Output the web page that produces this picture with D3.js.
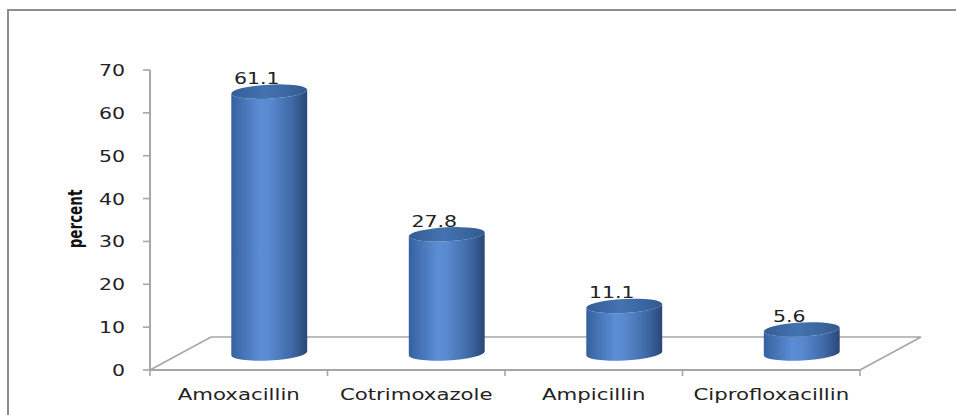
<!DOCTYPE html>
<html><head><meta charset="utf-8">
<script src="https://cdn.jsdelivr.net/npm/d3@7"></script>
<style>body{margin:0;background:#fff}svg{display:block}</style>
</head><body>
<script>
const categories = ["Amoxacillin", "Cotrimoxazole", "Ampicillin", "Ciprofloxacillin"];
const values = [61.1, 27.8, 11.1, 5.6];
const valueLabels = ["61.1", "27.8", "11.1", "5.6"];
const yTicks = [0, 10, 20, 30, 40, 50, 60, 70];
const yTitle = "percent";

const W = 956, H = 415;
const svg = d3.select("body").append("svg").attr("width", W).attr("height", H);
const S = 1.28;   // horizontal stretch of numbers
const SC = 1.33;  // horizontal stretch of category labels
const font = "'DejaVu Sans', Verdana, sans-serif";

const x0 = 150, x1 = 860, yBase = 370, yTop = 70;
const depthX = 61, depthY = 33;
const y = d3.scaleLinear().domain([0, 70]).range([yBase, yTop]);
const x = d3.scaleBand().domain(categories).range([x0, x1]);

const defs = svg.append("defs");
const gb = defs.append("linearGradient").attr("id", "body").attr("x1", 0).attr("x2", 1).attr("y1", 0).attr("y2", 0);
[[0, "#3661a0"], [0.38, "#5b8ed5"], [0.5, "#5989cf"], [0.8, "#3e69a6"], [1, "#2a4775"]].forEach(s => gb.append("stop").attr("offset", s[0]).attr("stop-color", s[1]));
const gt = defs.append("linearGradient").attr("id", "top").attr("x1", 0).attr("x2", 1).attr("y1", 0).attr("y2", 0);
[[0, "#345d96"], [0.45, "#4473b1"], [1, "#335a90"]].forEach(s => gt.append("stop").attr("offset", s[0]).attr("stop-color", s[1]));

// frame
svg.append("rect").attr("x", 8).attr("y", 10).attr("width", 1100).attr("height", 600)
  .attr("fill", "none").attr("stroke", "#8d8d8d").attr("stroke-width", 2);

const grey = "#a6a6a6";
// floor
svg.append("path")
  .attr("d", `M${x0},${yBase} L${x0 + depthX},${yBase - depthY} L${x1 + depthX},${yBase - depthY} L${x1},${yBase}`)
  .attr("fill", "none").attr("stroke", grey).attr("stroke-width", 1.6);

// y axis
svg.append("line").attr("x1", x0).attr("x2", x0).attr("y1", y(70)).attr("y2", yBase)
  .attr("stroke", grey).attr("stroke-width", 2);
yTicks.forEach(t => {
  svg.append("line").attr("x1", x0 - 7).attr("x2", x0).attr("y1", y(t)).attr("y2", y(t))
    .attr("stroke", grey).attr("stroke-width", 1.6);
  svg.append("text").attr("transform", `translate(125,${y(t) + 6}) scale(${S},1)`)
    .attr("text-anchor", "end").attr("font-family", font).attr("font-size", 16).attr("fill", "#222").text(t);
});

// x axis
svg.append("line").attr("x1", x0).attr("x2", x1).attr("y1", yBase).attr("y2", yBase)
  .attr("stroke", grey).attr("stroke-width", 2);
d3.range(categories.length + 1).forEach(i => {
  const xx = x0 + i * x.step();
  svg.append("line").attr("x1", xx).attr("x2", xx).attr("y1", yBase).attr("y2", yBase + 6)
    .attr("stroke", grey).attr("stroke-width", 1.6);
});
categories.forEach(c => {
  svg.append("text").attr("transform", `translate(${x(c) + x.bandwidth() / 2},400) scale(${SC},1)`)
    .attr("text-anchor", "middle").attr("font-family", font).attr("font-size", 16).attr("fill", "#222").text(c);
});

// axis title
svg.append("text").attr("transform", `translate(82,219) scale(${S},1) rotate(-90)`)
  .attr("text-anchor", "middle").attr("font-family", "'DejaVu Sans Condensed', 'DejaVu Sans', sans-serif")
  .attr("font-weight", "bold").attr("font-size", 15).attr("fill", "#111").text(yTitle);

// cylinders
const rx = 38, ry = 7, rot = -3 * Math.PI / 180;
const cos = Math.cos(rot), sin = Math.sin(rot);
values.forEach((v, i) => {
  const c = categories[i];
  const cx = x(c) + x.bandwidth() / 2 + depthX / 2;
  const cyB = y(0) - depthY / 2;
  const cyT = y(v) - depthY / 2;
  const lT = [cx - rx * cos, cyT - rx * sin], rT = [cx + rx * cos, cyT + rx * sin];
  const lB = [cx - rx * cos, cyB - rx * sin], rB = [cx + rx * cos, cyB + rx * sin];
  const deg = rot * 180 / Math.PI;
  svg.append("path")
    .attr("d", `M${lT} L${lB} A${rx},${ry} ${deg} 0 0 ${rB} L${rT} A${rx},${ry} ${deg} 0 1 ${lT} Z`)
    .attr("fill", "url(#body)");
  svg.append("ellipse").attr("cx", cx).attr("cy", cyT).attr("rx", rx).attr("ry", ry)
    .attr("transform", `rotate(${deg},${cx},${cyT})`).attr("fill", "url(#top)");
  svg.append("text").attr("transform", `translate(${cx - 12.5},${cyT - 7.5}) scale(${S},1)`)
    .attr("text-anchor", "middle").attr("font-family", font).attr("font-size", 16).attr("fill", "#222")
    .text(valueLabels[i]);
});
</script>
</body></html>
